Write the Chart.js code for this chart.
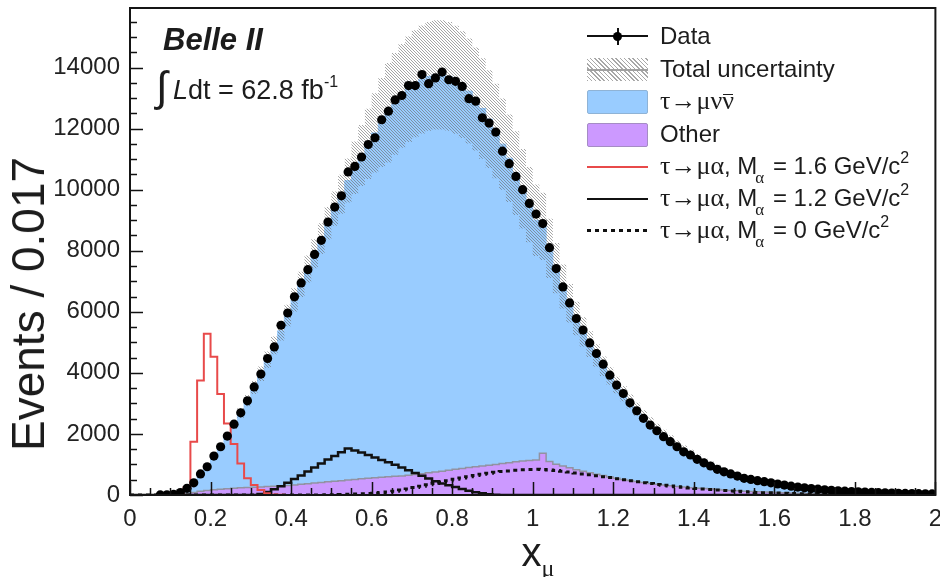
<!DOCTYPE html>
<html>
<head>
<meta charset="utf-8">
<script src="https://cdn.jsdelivr.net/npm/chart.js@4.4.1/dist/chart.umd.min.js"></script>
<style>
html,body{margin:0;padding:0;background:#fff;}
#wrap{position:relative;width:940px;height:577px;overflow:hidden;font-family:"Liberation Sans",Arial,sans-serif;color:#1c1c1c;}
#c{position:absolute;left:0;top:0;}
.ov{position:absolute;white-space:nowrap;line-height:1;}
.gr{font-family:"Liberation Serif","DejaVu Serif",serif;font-size:26px;}
.leg{font-size:24px;}
.sym{position:absolute;}
.bar{display:inline-block;position:relative;}
.bar i{position:absolute;left:1px;right:1px;top:6px;border-top:1.5px solid #1c1c1c;}
sub.s{font-size:16px;vertical-align:0;position:relative;top:9px;margin-left:-2px;margin-right:2px;}
sup.s{font-size:16px;vertical-align:0;position:relative;top:-11px;}
</style>
</head>
<body>
<div id="wrap">
<canvas id="c" width="940" height="577"></canvas>

<div class="ov" style="left:163px;top:24px;font-size:31px;font-weight:bold;font-style:italic;">Belle II</div>
<div class="ov" style="left:156px;top:66px;font-size:42px;">∫</div>
<div class="ov" style="left:173px;top:77px;font-size:27px;"><i>L</i>dt = 62.8 fb<sup class="s" style="top:-12px;font-size:16px;">-1</sup></div>

<div class="ov" style="left:28px;top:304px;font-size:46px;transform:translate(-50%,-50%) rotate(-90deg);">Events / 0.017</div>
<div class="ov" style="left:538px;top:552px;font-size:40px;transform:translate(-50%,-50%);">x<sub style="font-size:24px;vertical-align:0;position:relative;top:10px;font-family:'Liberation Serif',serif;">μ</sub></div>

<!-- legend symbols -->
<div class="sym" style="left:587px;top:35px;width:61px;height:2px;background:#111;"></div>
<div class="sym" style="left:616.5px;top:28px;width:2px;height:17px;background:#111;"></div>
<div class="sym" style="left:613px;top:32px;width:9px;height:9px;border-radius:50%;background:#000;"></div>
<div class="sym" style="left:587px;top:58px;width:61px;height:23px;background:repeating-linear-gradient(45deg,rgba(110,110,110,0.6) 0 1px,transparent 1px 3px);"></div>
<div class="sym" style="left:587px;top:68.5px;width:61px;height:2px;background:#a0a0a0;"></div>
<div class="sym" style="left:587px;top:90px;width:59px;height:22px;background:#99ccff;border:1px solid #8fb3d6;border-radius:2px;"></div>
<div class="sym" style="left:587px;top:123px;width:59px;height:22px;background:#cc99ff;border:1px solid #a58cc4;border-radius:2px;"></div>
<div class="sym" style="left:587px;top:165.5px;width:61px;height:2px;background:#e84a4a;"></div>
<div class="sym" style="left:587px;top:197.5px;width:61px;height:2.5px;background:#111;"></div>
<div class="sym" style="left:587px;top:228.5px;width:61px;height:3px;background:repeating-linear-gradient(90deg,#111 0 4px,transparent 4px 8px);"></div>

<!-- legend texts -->
<div class="ov leg" style="left:660px;top:24px;">Data</div>
<div class="ov leg" style="left:660px;top:57px;">Total uncertainty</div>
<div class="ov leg" style="left:660px;top:88px;"><span class="gr">τ→μν<span class="bar">ν<i></i></span></span></div>
<div class="ov leg" style="left:660px;top:122px;">Other</div>
<div class="ov leg" style="left:660px;top:153px;"><span class="gr">τ→μα</span>, M<sub class="s gr" style="font-size:17px;">α</sub> = 1.6 GeV/c<sup class="s">2</sup></div>
<div class="ov leg" style="left:660px;top:185px;"><span class="gr">τ→μα</span>, M<sub class="s gr" style="font-size:17px;">α</sub> = 1.2 GeV/c<sup class="s">2</sup></div>
<div class="ov leg" style="left:660px;top:217px;"><span class="gr">τ→μα</span>, M<sub class="s gr" style="font-size:17px;">α</sub> = 0 GeV/c<sup class="s">2</sup></div>
</div>

<script>
// ---- binning / axes ----
const N_BINS = 120;
const X_MIN = 0, X_MAX = 2;
const Y_MAX = 15950;
const X_MAJOR = 0.2, X_MINOR = 0.05;
const Y_MAJOR = 2000, Y_MINOR = 500;
const yTickValues = [0, 2000, 4000, 6000, 8000, 10000, 12000, 14000];
const xTickValues = [0, 0.2, 0.4, 0.6, 0.8, 1, 1.2, 1.4, 1.6, 1.8, 2];

// ---- series (events per bin) ----
const dataCounts = [0,0,0,0,2,6,20,80,
 220,400,690,925,1275,1580,1930,2320,2690,3085,
 3540,3960,4470,4850,5560,5960,6490,6945,7380,7880,
 8340,8940,9430,
 9800,10580,10760,11070,11480,11700,12290,12570,12940,
 13085,13410,13410,13770,13470,13660,13850,13600,13550,13380,
 12980,12900,12355,12180,11885,11260,10850,10435,10000,9550,
 9200,8890,8100,7415,6815,6290,5780,5400,4980,4635,
 4285,3925,3600,3325,3020,2760,2510,2290,2105,1910,
 1745,1580,1415,1310,1170,1055,950,840,760,690,
 620,545,510,470,435,400,360,325,290,260,
 235,210,190,170,155,140,125,115,105,95,
 85,77,70,63,57,52,47,43,40,36];

const tauMuNuNu = [0,0,0,0,3,8,20,65,
 150,330,550,790,1080,1390,1725,2080,2455,2845,
 3265,3705,4155,4615,5080,5565,6060,6550,7030,7510,
 7990,8470,8930,9380,9810,10210,10590,10950,11295,11620,
 11925,12200,12445,12640,12795,12910,12985,13010,12980,12900,
 12760,12570,12330,12045,11710,11335,10920,10460,9970,9450,
 8920,8380,7850,7430,6980,6420,5880,5390,4950,4560,
 4210,3890,3585,3310,3050,2810,2585,2370,2170,1990,
 1820,1665,1520,1380,1250,1140,1025,920,825,740,
 665,600,537,479,430,385,345,309,277,250,
 225,203,184,166,151,137,125,113,103,94,
 85,77,70,64,59,53,48,44,40,37,
 34,30];

const otherBkg = [0,0,0,0,0,0,5,20,
 60,80,120,150,170,190,205,220,235,245,
 255,265,275,285,300,315,330,350,370,390,
 410,430,450,470,490,510,530,550,565,580,
 595,610,625,650,675,700,725,750,780,810,
 840,870,900,925,950,975,1000,1030,1060,1090,
 1110,1130,1150,1370,1100,1010,950,890,830,780,
 730,680,635,590,550,510,475,440,410,380,
 350,325,300,280,260,240,225,210,195,180,
 165,150,138,126,115,105,95,86,78,70,
 63,57,51,46,41,37,33,30,27,24,
 22,20,18,16,14,13,12,11,10,9,
 8,8];

const totalUnc = [0,0,0,0,0,0,1,4,
 13,25,40,56,75,95,116,138,161,185,
 211,238,266,294,323,353,383,414,444,474,
 504,534,563,640,720,860,1000,1150,1300,1460,
 1630,1665,1700,1730,1750,1770,1780,1790,1790,1780,
 1770,1750,1720,1690,1645,1600,1550,1495,1435,1370,
 1300,1235,1170,1100,970,820,720,630,550,480,
 420,365,320,293,270,249,230,211,194,178,
 163,149,137,125,113,104,94,85,77,69,
 62,56,51,45,41,37,33,30,27,24,
 22,20,18,16,14,13,12,11,10,9,
 8,7,7,6,5,5,5,4,4,3,
 3,3];

const sigM16 = [0,0,0,0,0,0,5,40,
 250,1745,3750,5280,4525,3310,2345,1670,1035,545,
 330,165,60,20,5,0,0,0,0,0,
 0,0,0,0,0,0,0,0,0,0,
 0,0,0,0,0,0,0,0,0,0,
 0,0,0,0,0,0,0,0,0,0,
 0,0,0,0,0,0,0,0,0,0,
 0,0,0,0,0,0,0,0,0,0,
 0,0,0,0,0,0,0,0,0,0,
 0,0,0,0,0,0,0,0,0,0,
 0,0,0,0,0,0,0,0,0,0,
 0,0,0,0,0,0,0,0,0,0,
 0,0];

const sigM12 = [0,0,0,0,0,0,0,0,
 0,0,0,0,0,0,0,0,0,0,
 0,30,100,190,290,400,520,640,770,900,
 1030,1160,1280,1400,1520,1460,1390,1310,1230,1150,
 1070,990,900,810,720,630,540,450,380,320,
 260,200,140,90,55,25,8,0,0,0,
 0,0,0,0,0,0,0,0,0,0,
 0,0,0,0,0,0,0,0,0,0,
 0,0,0,0,0,0,0,0,0,0,
 0,0,0,0,0,0,0,0,0,0,
 0,0,0,0,0,0,0,0,0,0,
 0,0,0,0,0,0,0,0,0,0,
 0,0];

const sigM0 = [0,0,0,0,0,0,0,0,
 0,0,0,0,0,0,0,0,0,0,
 0,0,0,0,0,0,0,0,0,0,
 2,5,10,15,22,30,38,48,60,80,
 100,125,160,200,245,290,335,380,425,470,
 515,560,600,640,680,715,745,770,790,810,
 825,835,840,835,820,800,775,750,720,690,
 660,630,600,570,535,500,465,435,405,375,
 345,320,295,270,250,230,210,195,180,165,
 150,135,120,108,96,85,75,70,62,55,
 48,42,37,32,28,24,20,17,14,11,
 9,7,5,4,3,2,1,0,0,0,
 0,0];

// ---- derived tables for the library ----
const BIN_W = (X_MAX - X_MIN) / N_BINS;
const edges = Array.from({length: N_BINS + 1}, (_, i) => X_MIN + i * BIN_W);
function stepSeries(arr) {
  const pts = arr.map((v, i) => ({x: edges[i], y: v}));
  pts.push({x: edges[N_BINS], y: arr[arr.length - 1]});
  return pts;
}
const mcTotal = tauMuNuNu.map((v, i) => v + otherBkg[i]);
const bandHi = mcTotal.map((v, i) => v + totalUnc[i]);
const bandLo = mcTotal.map((v, i) => Math.max(0, v - totalUnc[i]));
const dataPts = dataCounts.map((v, i) => ({x: (edges[i] + edges[i + 1]) / 2, y: v}));

function hatchPattern() {
  const s = 3;
  const c = document.createElement('canvas');
  c.width = s; c.height = s;
  const g = c.getContext('2d');
  g.strokeStyle = 'rgba(105,105,105,0.6)';
  g.lineWidth = 1;
  g.beginPath();
  g.moveTo(0, 0); g.lineTo(s, s);
  g.moveTo(-1, s - 1); g.lineTo(1, s + 1);
  g.moveTo(s - 1, -1); g.lineTo(s + 1, 1);
  g.stroke();
  return g.createPattern(c, 'repeat');
}

const frameTicks = {
  id: 'frameTicks',
  afterDraw(chart) {
    const {ctx, chartArea: a, scales: {x, y}} = chart;
    ctx.save();
    ctx.strokeStyle = '#111';
    ctx.lineWidth = 1.5;
    const ny = Math.floor(Y_MAX / Y_MINOR);
    for (let k = 0; k <= ny; k++) {
      const v = k * Y_MINOR;
      const py = Math.round(y.getPixelForValue(v)) + 0.5;
      const len = (v % Y_MAJOR === 0) ? 13 : 7;
      ctx.beginPath(); ctx.moveTo(a.left, py); ctx.lineTo(a.left + len, py); ctx.stroke();
    }
    const nx = Math.round((X_MAX - X_MIN) / X_MINOR);
    const per = Math.round(X_MAJOR / X_MINOR);
    for (let k = 0; k <= nx; k++) {
      const px = Math.round(x.getPixelForValue(X_MIN + k * X_MINOR)) + 0.5;
      const len = (k % per === 0) ? 13 : 7;
      ctx.beginPath(); ctx.moveTo(px, a.bottom); ctx.lineTo(px, a.bottom - len); ctx.stroke();
    }
    ctx.lineWidth = 2;
    ctx.strokeStyle = '#151515';
    ctx.strokeRect(a.left, a.top, a.right - a.left, a.bottom - a.top);
    ctx.restore();
  }
};

const tickFont = {family: '"Liberation Sans", Arial, sans-serif', size: 24};
const transparent = 'rgba(0,0,0,0)';

new Chart(document.getElementById('c'), {
  type: 'line',
  data: {
    datasets: [
      {label: 'Data', data: dataPts, showLine: false, order: 0,
       pointRadius: c => (c.raw && c.raw.y > 0) ? 4.6 : 0,
       pointBackgroundColor: '#000', pointBorderWidth: 0, pointBorderColor: '#000'},
      {label: 'M1.6', data: stepSeries(sigM16), stepped: true, order: 1,
       borderColor: '#e84a4a', borderWidth: 2, pointRadius: 0, fill: false},
      {label: 'M1.2', data: stepSeries(sigM12), stepped: true, order: 2,
       borderColor: '#111', borderWidth: 2.5, pointRadius: 0, fill: false},
      {label: 'M0', data: stepSeries(sigM0), stepped: true, order: 3,
       borderColor: '#111', borderWidth: 3, borderDash: [4, 4], pointRadius: 0, fill: false},
      {label: 'Unc hi', data: stepSeries(bandHi), stepped: true, order: 4,
       borderColor: transparent, borderWidth: 1, pointRadius: 0,
       fill: {target: 5}, backgroundColor: hatchPattern()},
      {label: 'Unc lo', data: stepSeries(bandLo), stepped: true, order: 5,
       borderColor: transparent, borderWidth: 1, pointRadius: 0, fill: false},
      {label: 'Other', data: stepSeries(otherBkg), stepped: true, order: 6,
       borderColor: '#9292a2', borderWidth: 1.5, pointRadius: 0,
       fill: 'origin', backgroundColor: '#cc99ff'},
      {label: 'tau->mu nu nu', data: stepSeries(mcTotal), stepped: true, order: 7,
       borderColor: '#99ccff', borderWidth: 1, pointRadius: 0,
       fill: 'origin', backgroundColor: '#99ccff'}
    ]
  },
  options: {
    responsive: false,
    animation: false,
    devicePixelRatio: 1,
    layout: {padding: {top: 8, right: 4, left: 0, bottom: 0}},
    plugins: {legend: {display: false}, tooltip: {enabled: false}},
    scales: {
      x: {
        type: 'linear', min: X_MIN, max: X_MAX,
        grid: {display: false, drawTicks: false}, border: {display: false},
        afterBuildTicks: s => { s.ticks = xTickValues.map(v => ({value: v})); },
        ticks: {autoSkip: false, maxRotation: 0, padding: 10,
                font: tickFont, color: '#222',
                callback: v => String(Math.round(v * 10) / 10)},
        afterFit: s => { s.height = 82; s.paddingLeft = 0; s.paddingRight = 0; }
      },
      y: {
        type: 'linear', min: 0, max: Y_MAX,
        grid: {display: false, drawTicks: false}, border: {display: false},
        afterBuildTicks: s => { s.ticks = yTickValues.map(v => ({value: v})); },
        ticks: {padding: 10, font: tickFont, color: '#222',
                callback: v => String(v)},
        afterFit: s => { s.width = 130; s.paddingTop = 0; s.paddingBottom = 0; }
      }
    }
  },
  plugins: [frameTicks]
});
</script>
</body>
</html>
